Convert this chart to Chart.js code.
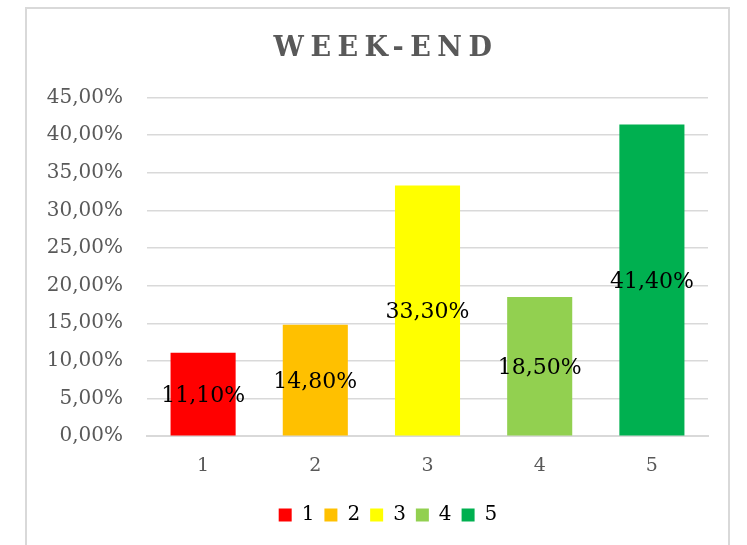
<!DOCTYPE html>
<html>
<head>
<meta charset="utf-8">
<script src="https://cdn.jsdelivr.net/npm/chart.js@4/dist/chart.umd.min.js"></script>
<style>
html,body{margin:0;padding:0;background:#fff;width:747px;height:545px;overflow:hidden;}
#frame{position:absolute;left:25px;top:7px;width:705px;height:545px;border:2px solid #d9d9d9;border-bottom:none;box-sizing:border-box;}
#wrap{position:absolute;left:27px;top:9px;width:701px;height:536px;}
</style>
</head>
<body>
<div id="frame"></div>
<div id="wrap"><canvas id="c"></canvas></div>
<script>
const categories = ['1','2','3','4','5'];
const values = [0.111, 0.148, 0.333, 0.185, 0.414];
const barColors = ['#FF0000','#FFC000','#FFFF00','#92D050','#00B050'];
const chartTitle = 'WEEK-END';

const FONT = "'DejaVu Serif', 'Liberation Serif', serif";
const fmt = v => (v*100).toFixed(2).replace('.', ',') + '%';

const labelPlugin = {
  id: 'barLabels',
  afterDatasetsDraw(chart) {
    const ctx = chart.ctx;
    const meta = chart.getDatasetMeta(0);
    ctx.save();
    ctx.font = "22px " + FONT;
    ctx.fillStyle = '#000000';
    ctx.textAlign = 'center';
    ctx.textBaseline = 'middle';
    meta.data.forEach((bar, i) => {
      const y = (bar.y + bar.base) / 2 + 2;
      ctx.fillText(fmt(chart.data.datasets[0].data[i]), bar.x, y);
    });
    ctx.restore();
  }
};

function patchBox(box, dx, spacing) {
  if (!box || box._patched) return;
  const orig = box.draw;
  box.draw = function() {
    const ctx = this.ctx;
    ctx.save();
    ctx.translate(dx, 0);
    if (spacing) ctx.letterSpacing = spacing;
    orig.apply(this, arguments);
    ctx.restore();
  };
  box._patched = true;
}

const shiftPlugin = {
  id: 'boxShift',
  beforeDraw(chart) {
    patchBox(chart.titleBlock, 10, '6.5px');
    patchBox(chart.legend, 12, null);
  }
};

new Chart(document.getElementById('c'), {
  type: 'bar',
  data: {
    labels: categories,
    datasets: [{
      data: values,
      backgroundColor: barColors,
      categoryPercentage: 0.58,
      barPercentage: 1.0
    }]
  },
  plugins: [labelPlugin, shiftPlugin],
  options: {
    responsive: true,
    maintainAspectRatio: false,
    animation: false,
    layout: { padding: { left: 17, right: 20, top: 0, bottom: 10 } },
    plugins: {
      title: {
        display: true,
        text: chartTitle,
        color: '#595959',
        font: { family: FONT, size: 27, weight: 'bold' },
        padding: { top: 24, bottom: 32 }
      },
      legend: {
        display: true,
        position: 'bottom',
        labels: {
          color: '#595959',
          font: { family: FONT, size: 20 },
          boxWidth: 13,
          boxHeight: 13,
          padding: 10,
          generateLabels(chart) {
            return chart.data.labels.map((l, i) => ({
              text: l,
              fillStyle: barColors[i],
              strokeStyle: barColors[i],
              lineWidth: 0,
              index: i
            }));
          }
        },
        onClick: null
      },
      tooltip: { enabled: false }
    },
    scales: {
      x: {
        grid: { display: false, drawTicks: false },
        border: { display: true, color: '#d9d9d9', width: 2 },
        ticks: { color: '#595959', font: { family: FONT, size: 19 }, padding: 18 }
      },
      y: {
        min: 0,
        max: 0.45,
        border: { display: false },
        grid: { color: '#d9d9d9', lineWidth: 1.5, drawTicks: false },
        afterFit(scale) { scale.width = 103; },
        ticks: {
          stepSize: 0.05,
          color: '#595959',
          font: { family: FONT, size: 20 },
          padding: 24,
          callback: v => fmt(v)
        }
      }
    }
  }
});
</script>
</body>
</html>
